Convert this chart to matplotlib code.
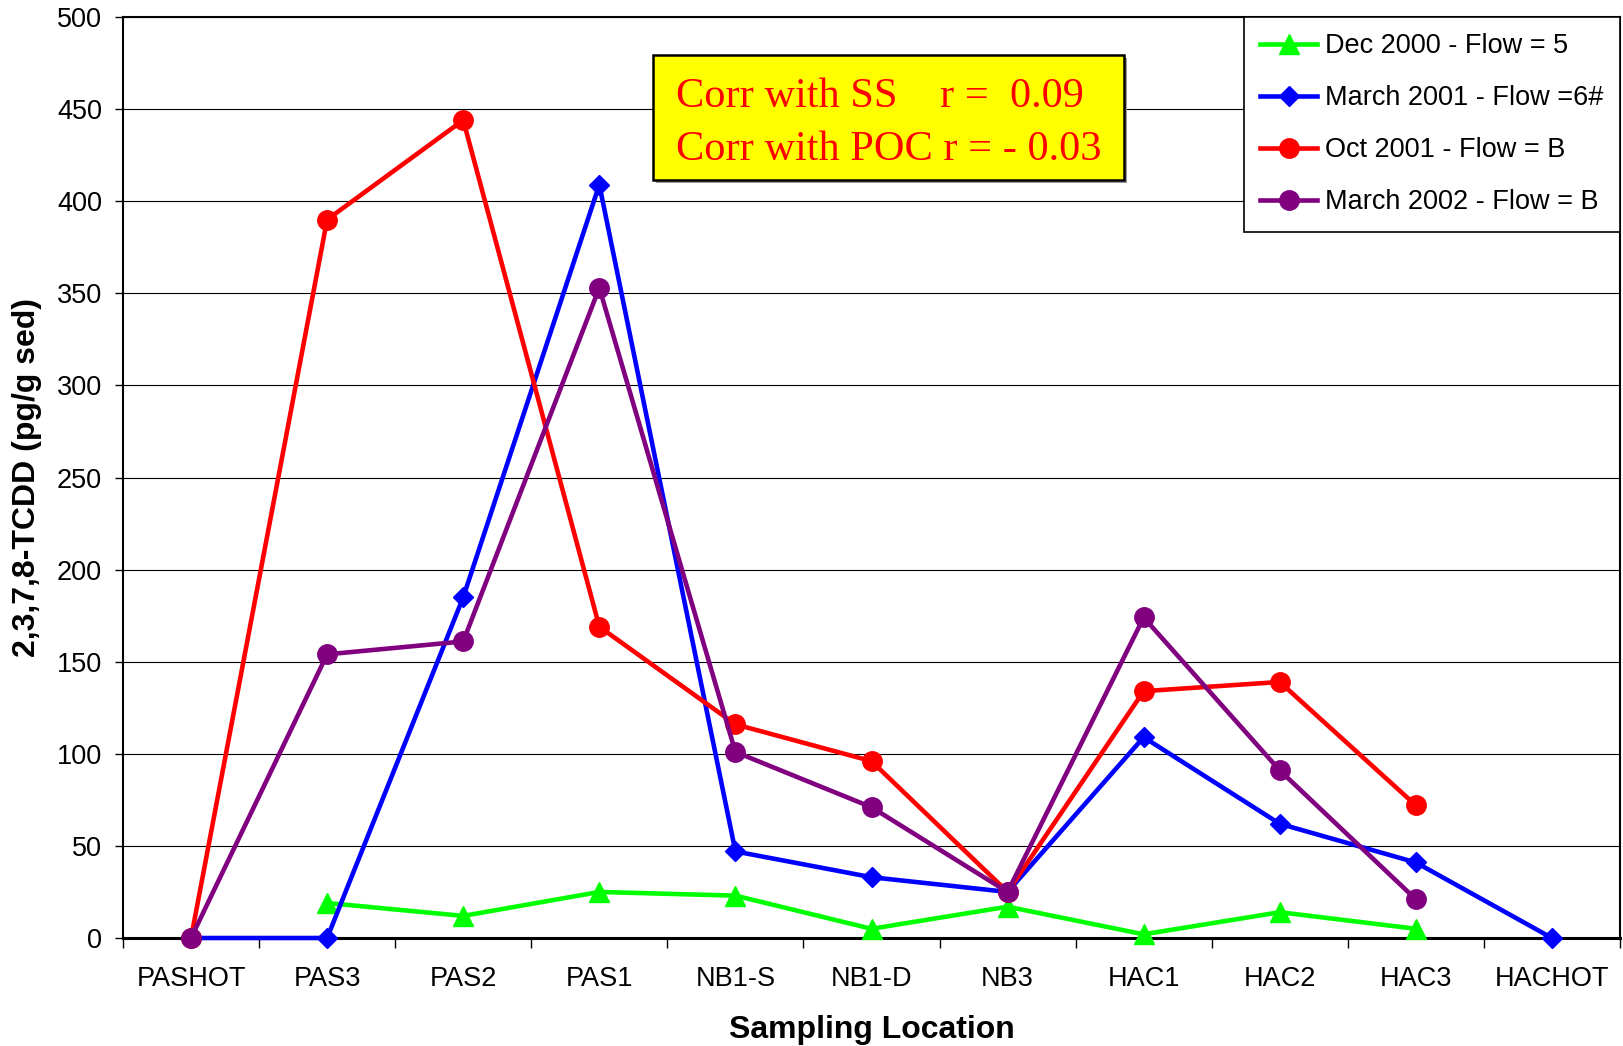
import numpy as np
import matplotlib
matplotlib.use("Agg")
import matplotlib.pyplot as plt
from matplotlib.patches import Rectangle

categories = ["PASHOT", "PAS3", "PAS2", "PAS1", "NB1-S", "NB1-D", "NB3",
              "HAC1", "HAC2", "HAC3", "HACHOT"]
nan = np.nan
dec2000 = [nan, 19, 12, 25, 23, 5, 17, 2, 14, 5, nan]
mar2001 = [0, 0, 185, 409, 47, 33, 25, 109, 62, 41, 0]
oct2001 = [0, 390, 444, 169, 116, 96, 25, 134, 139, 72, nan]
mar2002 = [0, 154, 161, 353, 101, 71, 25, 174, 91, 21, nan]
series_labels = ["Dec 2000 - Flow = 5", "March 2001 - Flow =6#",
                 "Oct 2001 - Flow = B", "March 2002 - Flow = B"]
yticks = [0, 50, 100, 150, 200, 250, 300, 350, 400, 450, 500]
annotation = "Corr with SS    r =  0.09\nCorr with POC r = - 0.03"

plt.rcParams['font.family'] = ['Liberation Sans', 'DejaVu Sans']

W, H = 1623, 1046
fig = plt.figure(figsize=(W / 100, H / 100), dpi=100)
ax = fig.add_axes([123 / W, 1 - 938 / H, (1620 - 123) / W, (938 - 17) / H])

x = np.arange(len(categories))
styles = [
    (dec2000, '#00FF00', '^', 14.5),
    (mar2001, '#0000FF', 'D', 10.5),
    (oct2001, '#FF0000', 'o', 14),
    (mar2002, '#800080', 'o', 14),
]
for (vals, col, mk, ms), lab in zip(styles, series_labels):
    ax.plot(x, vals, color=col, lw=3.3, marker=mk, markersize=ms,
            markerfacecolor=col, markeredgecolor=col, label=lab,
            clip_on=False, zorder=3)

ax.set_xlim(-0.5, len(categories) - 0.5)
ax.set_ylim(0, 500)
ax.set_yticks(yticks)
ax.yaxis.grid(True, color='black', lw=0.8)
ax.set_axisbelow(True)

ax.set_xticks(np.arange(-0.5, len(categories)), minor=False)
ax.set_xticklabels([])
ax.set_xticks(x, minor=True)
ax.set_xticklabels(categories, minor=True)
ax.tick_params(axis='x', which='major', length=7, width=1, direction='out', color='black')
ax.tick_params(axis='x', which='minor', length=0, pad=20, labelsize=19.5)
ax.tick_params(axis='y', length=6, width=1, direction='out', pad=9, labelsize=19.5)

for s in ['left', 'top', 'right']:
    ax.spines[s].set_linewidth(1.5)
ax.spines['bottom'].set_linewidth(2.2)

ax.set_xlabel("Sampling Location", fontsize=23, fontweight='bold', labelpad=17)
ax.set_ylabel("2,3,7,8-TCDD (pg/g sed)", fontsize=23, fontweight='bold', labelpad=11)

leg = ax.legend(loc='upper right', bbox_to_anchor=(1.0, 1.0), borderaxespad=0,
                fancybox=False, frameon=True, edgecolor='black', framealpha=1,
                fontsize=19.5, handlelength=2.1, handletextpad=0.3,
                labelspacing=0.96, borderpad=0.6)
leg.get_frame().set_linewidth(1.2)
leg.set_zorder(5)

# annotation box (with a faint shadow)
x0, x1, y0, y1 = 653, 1124, 55, 180
fig.patches.append(Rectangle(((x0 + 3) / W, 1 - (y1 + 3) / H), (x1 - x0) / W, (y1 - y0) / H,
                             transform=fig.transFigure, fc='#9a9a9a', ec='none', zorder=8))
fig.patches.append(Rectangle((x0 / W, 1 - y1 / H), (x1 - x0) / W, (y1 - y0) / H,
                             transform=fig.transFigure, fc='#FFFF00', ec='black', lw=1.8, zorder=9))
fig.text((x0 + x1) / 2 / W, 1 - ((y0 + y1) / 2 + 5.5) / H, annotation, ha='center', va='center',
         color='red', fontsize=30.5, family='Liberation Serif', linespacing=1.5,
         multialignment='left', zorder=10)

fig.savefig("out.png", dpi=100)
